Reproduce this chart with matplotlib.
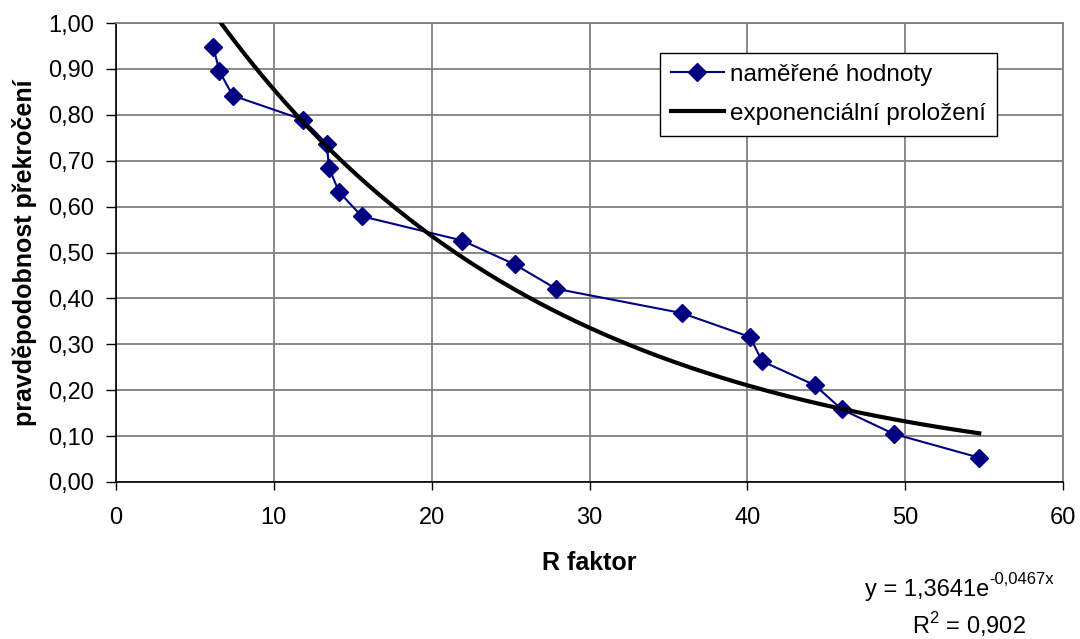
import numpy as np
import matplotlib.pyplot as plt

plt.rcParams['font.family'] = ['Liberation Sans', 'DejaVu Sans']

# measured R factor values and their exceedance probabilities
r_faktor = [6.17, 6.55, 7.39, 11.87, 13.35, 13.50, 14.13, 15.57, 21.95,
            25.26, 27.88, 35.85, 40.16, 40.94, 44.27, 45.99, 49.26, 54.69]
pravdepodobnost = [0.947, 0.895, 0.842, 0.789, 0.737, 0.684, 0.632, 0.579, 0.526,
                   0.474, 0.421, 0.368, 0.316, 0.263, 0.211, 0.158, 0.105, 0.053]

# exponential trendline coefficients: y = a * exp(b * x)
fit_a = 1.3641
fit_b = -0.0467
fit_r2 = 0.902

x_ticks = [0, 10, 20, 30, 40, 50, 60]
y_ticks = [0.0, 0.1, 0.2, 0.3, 0.4, 0.5, 0.6, 0.7, 0.8, 0.9, 1.0]

fs = 17

fig = plt.figure(figsize=(10.8, 6.39), dpi=100)
ax = fig.add_axes([0.1074, 0.2457, 0.8769, 0.7183])

ax.plot(r_faktor, pravdepodobnost, color='#000080', lw=1.5, marker='D',
        markersize=9, label='naměřené hodnoty', zorder=3)

xs = np.linspace(min(r_faktor), max(r_faktor), 300)
ax.plot(xs, fit_a * np.exp(fit_b * xs), color='black', lw=3,
        label='exponenciální proložení', zorder=4)

ax.set_xlim(0, 60)
ax.set_ylim(0, 1.0)
ax.set_xticks(x_ticks)
ax.set_yticks(y_ticks)
ax.set_xticklabels([str(t) for t in x_ticks])
ax.set_yticklabels([f'{t:.2f}'.replace('.', ',') for t in y_ticks])
ax.tick_params(labelsize=fs, width=1, direction='out', color='black')
ax.tick_params(axis='x', length=6, pad=12)
ax.tick_params(axis='y', length=7, pad=9)

ax.grid(True, color='#808080', lw=1.3)
ax.set_axisbelow(True)
for side in ('top', 'right'):
    ax.spines[side].set_color('#808080')
    ax.spines[side].set_linewidth(1.3)
for side in ('left', 'bottom'):
    ax.spines[side].set_color('black')
    ax.spines[side].set_linewidth(1.2)

ax.set_xlabel('R faktor', fontsize=18, fontweight='bold')
ax.xaxis.set_label_coords(0.5, -0.1765)
ax.xaxis.label.set_va('center')
ax.set_ylabel('pravděpodobnost překročení', fontsize=18, fontweight='bold')
ax.yaxis.set_label_coords(-0.097, 0.5)
ax.yaxis.label.set_va('center')

leg = ax.legend(loc='upper left', bbox_to_anchor=(0.574, 0.935), fontsize=17.5,
                frameon=True, fancybox=False, framealpha=1, edgecolor='black',
                handlelength=2.2, borderpad=0.45, labelspacing=0.7,
                handletextpad=0.25, borderaxespad=0)
leg.get_frame().set_linewidth(1.0)

# trendline equation, exponent as a separate raised text
rovnice = fig.text(0.801, 0.0767, 'y = ' + f'{fit_a:.4f}'.replace('.', ',') + 'e',
                   fontsize=fs, ha='left', va='center')
fig.canvas.draw()
bb = rovnice.get_window_extent(fig.canvas.get_renderer())
fig.text(bb.x1 / fig.bbox.width, 0.0767 + 0.017, f'{fit_b:.4f}'.replace('.', ',') + 'x',
         fontsize=12, ha='left', va='center')
fig.text(0.897, 0.022, 'R$^{\\mathregular{2}}$ = ' + f'{fit_r2:.3f}'.replace('.', ','),
         fontsize=fs, ha='center', va='center')

fig.savefig('out.png', dpi=100)
